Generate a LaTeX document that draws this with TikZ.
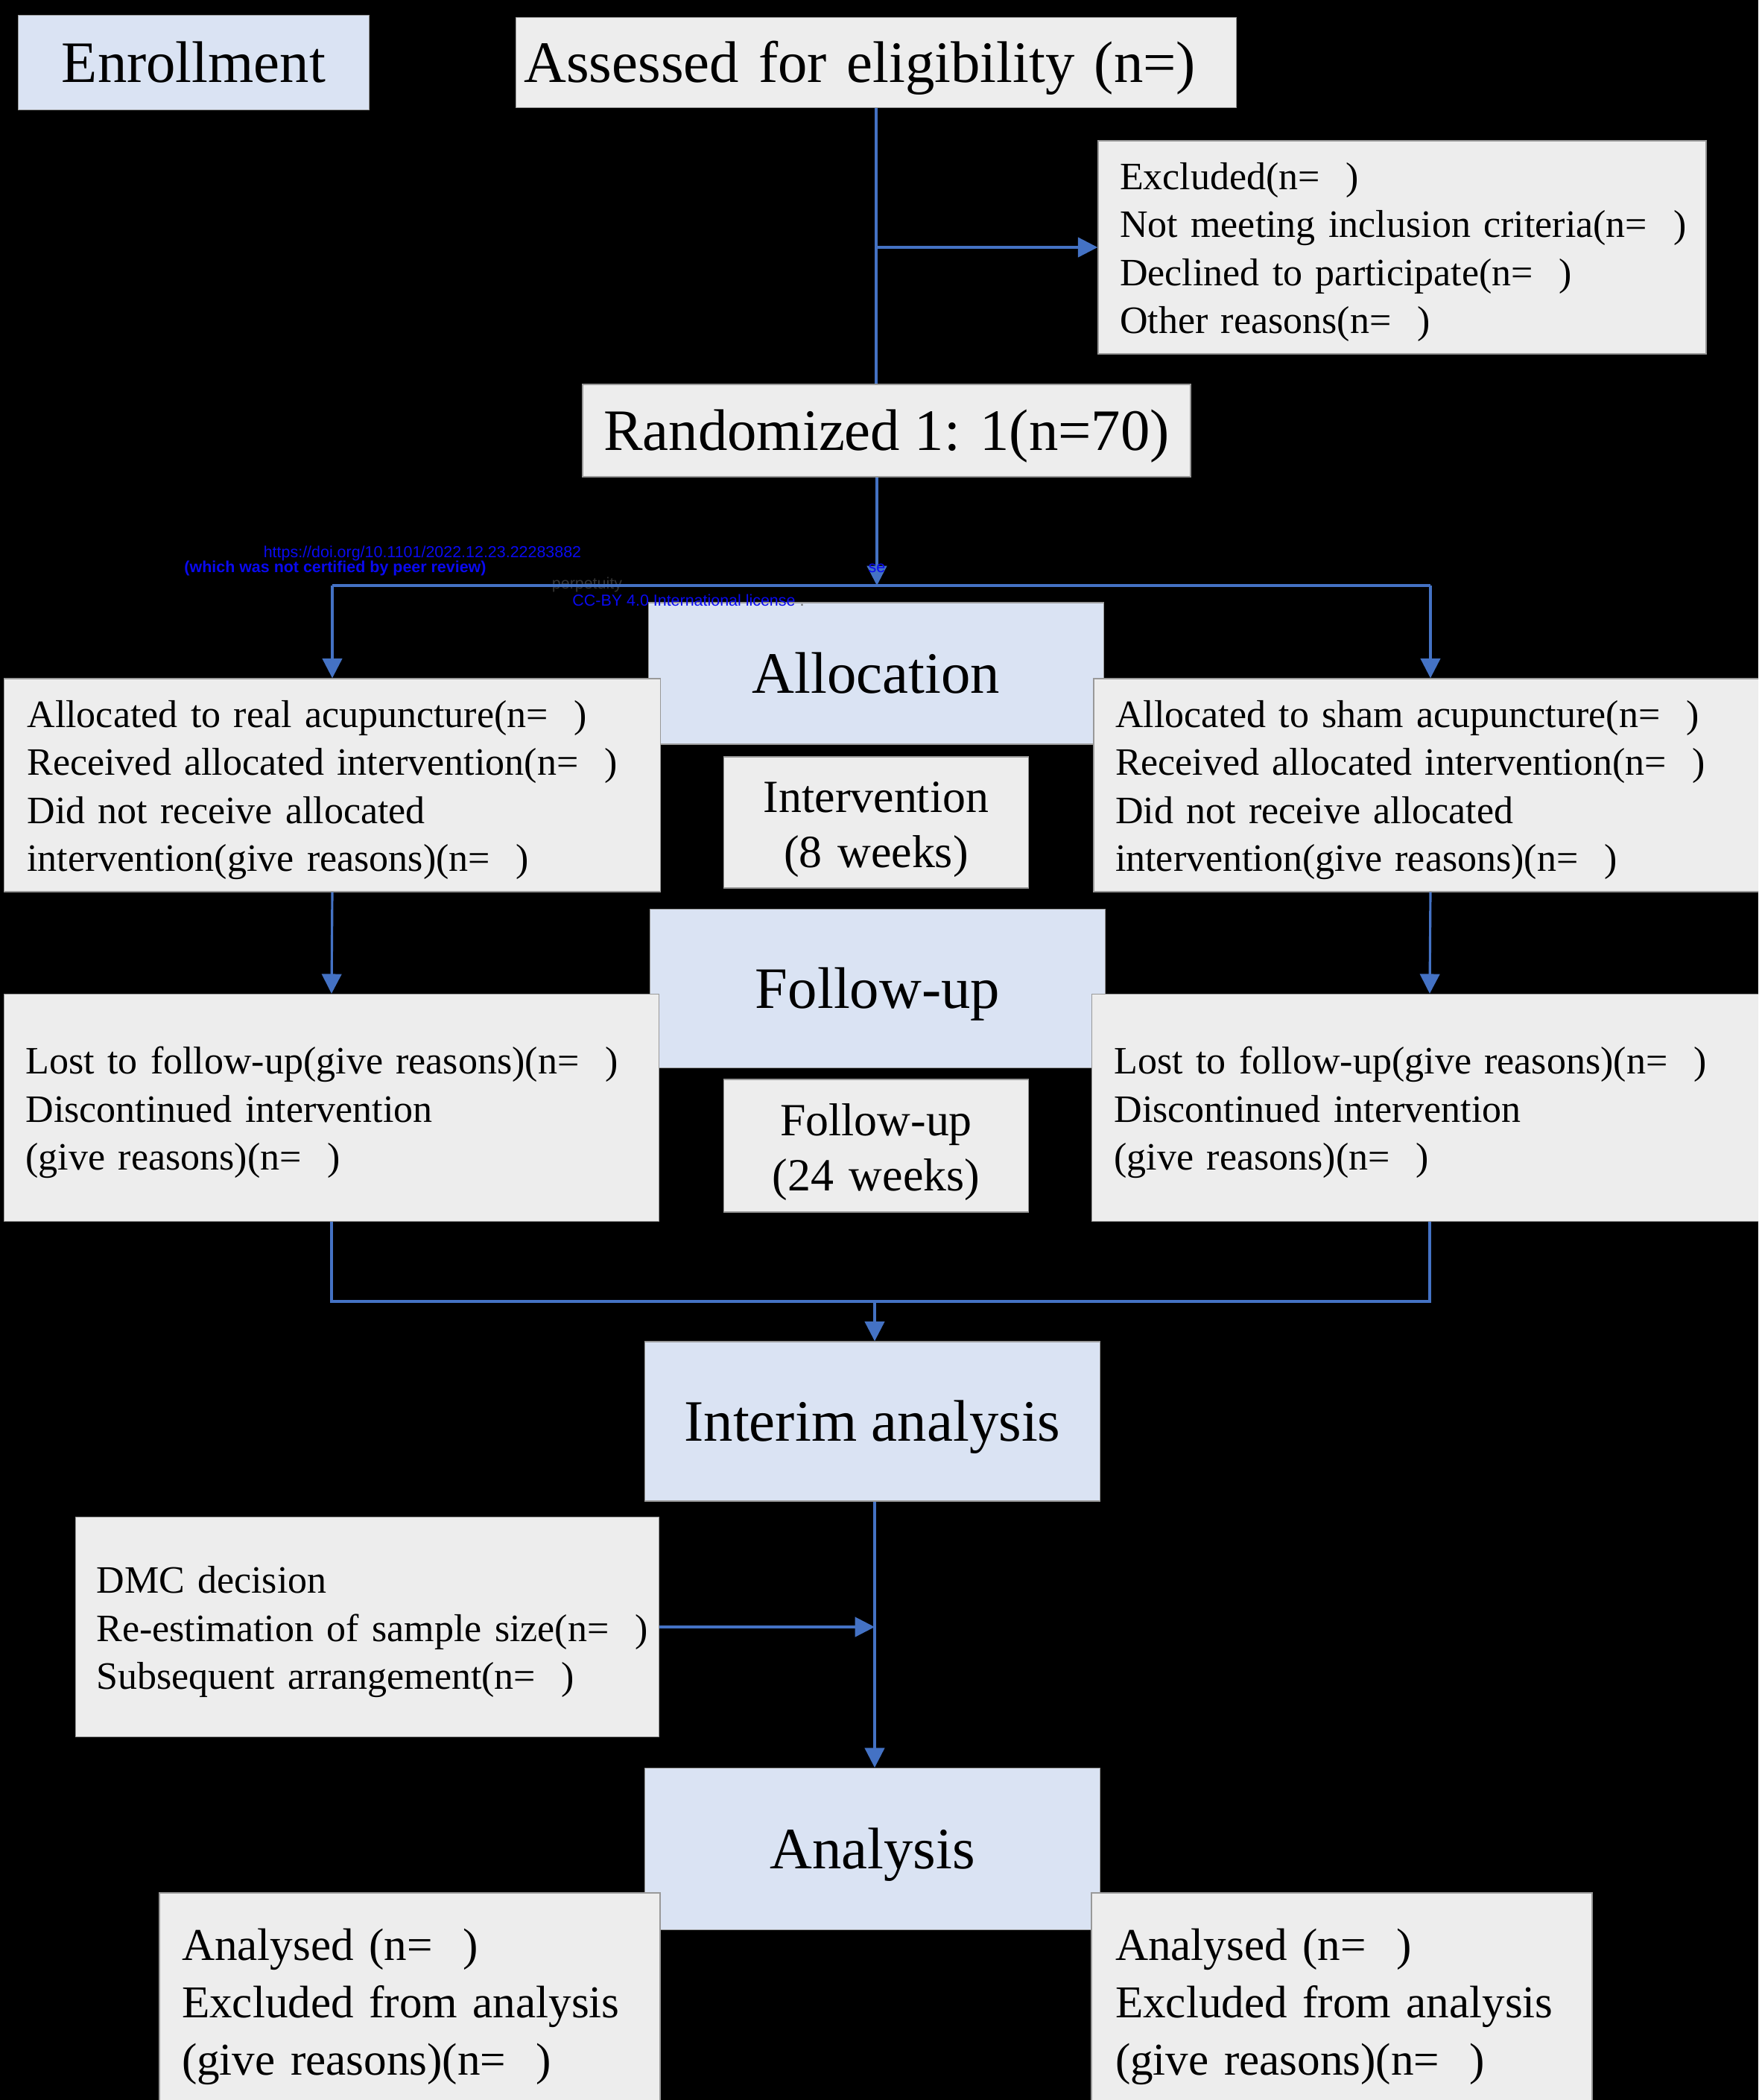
\documentclass[tikz,border=0pt]{standalone}
\usepackage{fontspec}
\setmainfont{Liberation Serif}
\newfontfamily\stampfont{Liberation Sans}
\usetikzlibrary{arrows.meta}
\definecolor{boxgray}{HTML}{EDEDED}
\definecolor{boxblue}{HTML}{DAE3F3}
\definecolor{linkblue}{HTML}{4472C4}
\definecolor{stampblue}{HTML}{0A0AF0}
\tikzset{
  stagebox/.style={fill=boxblue, draw=black!40, line width=0.4pt, inner sep=0pt, text height=14.8pt, text depth=0pt, font=\fontsize{22.4}{27}\selectfont},
  countbox/.style={fill=boxgray, draw=black!40, line width=0.4pt, inner sep=0pt, text height=14.8pt, text depth=0pt, font=\fontsize{22.4}{27}\selectfont},
  notebox/.style={fill=boxgray, draw=black!40, line width=0.4pt, inner ysep=0pt, align=left, text height=14pt, font=\fontsize{14.8}{18.35}\selectfont},
  periodbox/.style={fill=boxgray, draw=black!40, line width=0.4pt, inner sep=0pt, text width=4.09cm, align=center, text height=17pt, font=\fontsize{17.6}{21}\selectfont},
  resultbox/.style={notebox, text height=15.8pt, font=\fontsize{17.4}{21.9}\selectfont},
  flowline/.style={draw=linkblue, line width=0.9pt},
  flowarrow/.style={flowline, -{Triangle[length=7.5pt,width=7.5pt]}},
  stamp/.style={font=\stampfont\fontsize{6.1}{7}\selectfont, text=stampblue, inner sep=0pt},
}
\begin{document}
\begin{tikzpicture}

   \useasboundingbox (0,0) rectangle (23.6,-28.19);
   \clip (0,0) rectangle (23.6,-28.19);
   \fill [black] (0,0) rectangle (23.6,-28.19);

   \node (perpetuity) at (7.88,-7.85) [stamp, text=black!80] {perpetuity};

   \node (Enrollment) at (2.60,-0.84) [stagebox, minimum width=4.71cm, minimum height=1.27cm] {Enrollment};
   \node (Assessed) at (11.76,-0.84) [countbox, inner xsep=0.11cm, text width=9.45cm, align=left, minimum height=1.21cm] {Assessed for eligibility (n=)};
   \node (Excluded) at (18.82,-3.32) [notebox, inner xsep=0.29cm, text width=7.58cm, minimum height=2.86cm] {Excluded(n=~~)\\ \mbox{Not meeting inclusion criteria(n=~~)}\\ Declined to participate(n=~~)\\ Other reasons(n=~~)};
   \node (Randomized) at (11.90,-5.78) [countbox, minimum width=8.16cm, minimum height=1.24cm] {Randomized 1: 1(n=70)};

   \node (Allocation) at (11.76,-9.04) [stagebox, minimum width=6.11cm, minimum height=1.90cm] {Allocation};
   \node (FollowUp) at (11.78,-13.27) [stagebox, minimum width=6.11cm, minimum height=2.13cm] {Follow-up};
   \node (Interim) at (11.71,-19.08) [stagebox, minimum width=6.11cm, minimum height=2.14cm] {Interim analysis};
   \node (Analysis) at (11.71,-24.82) [stagebox, minimum width=6.11cm, minimum height=2.17cm] {Analysis};

   \node (AllocReal) at (4.46,-10.54) [notebox, inner xsep=0.31cm, text width=8.19cm, minimum height=2.86cm] {Allocated to real acupuncture(n=~~)\\ Received allocated intervention(n=~~)\\ Did not receive allocated\\ intervention(give reasons)(n=~~)};
   \node (AllocSham) at (19.20,-10.54) [notebox, inner xsep=0.29cm, text width=8.46cm, minimum height=2.86cm] {Allocated to sham acupuncture(n=~~)\\ Received allocated intervention(n=~~)\\ Did not receive allocated\\ intervention(give reasons)(n=~~)};
   \node (Intervention) at (11.76,-11.04) [periodbox, minimum height=1.76cm] {Intervention\\(8 weeks)};

   \node (LostReal) at (4.45,-14.87) [notebox, inner xsep=0.29cm, text width=8.21cm, minimum height=3.05cm] {Lost to follow-up(give reasons)(n=~~)\\ Discontinued intervention\\ (give reasons)(n=~~)};
   \node (LostSham) at (19.19,-14.87) [notebox, inner xsep=0.30cm, text width=8.47cm, minimum height=3.05cm] {Lost to follow-up(give reasons)(n=~~)\\ Discontinued intervention\\ (give reasons)(n=~~)};
   \node (FollowWeeks) at (11.76,-15.38) [periodbox, minimum height=1.78cm] {Follow-up\\(24 weeks)};

   \node (DMC) at (4.93,-21.84) [notebox, inner xsep=0.28cm, text width=7.27cm, minimum height=2.95cm] {DMC decision\\ \mbox{Re-estimation of sample size(n=~~)}\\ Subsequent arrangement(n=~~)};

   \node (AnalysedReal) at (5.50,-26.87) [resultbox, inner xsep=0.30cm, text width=6.12cm, minimum height=2.92cm] {Analysed (n=~~)\\ Excluded from analysis\\ (give reasons)(n=~~)};
   \node (AnalysedSham) at (18.01,-26.87) [resultbox, inner xsep=0.32cm, text width=6.08cm, minimum height=2.92cm] {Analysed (n=~~)\\ Excluded from analysis\\ (give reasons)(n=~~)};

   \coordinate (ExclSplit) at (Assessed.south |- Excluded.west);
   \coordinate (AllocSplit) at (11.77,-7.86);
   \coordinate (Merge) at (11.74,-17.47);

   \draw [flowline] (Assessed.south) -- (Assessed.south |- Randomized.north);
   \draw [flowarrow] (ExclSplit) -- (Excluded.west);
   \draw [flowarrow] (AllocSplit |- Randomized.south) -- (AllocSplit);
   \draw [flowline] (AllocReal.north |- AllocSplit) -- (AllocSham.north |- AllocSplit);
   \draw [flowarrow] (AllocReal.north |- AllocSplit) -- (AllocReal.north);
   \draw [flowarrow] (AllocSham.north |- AllocSplit) -- (AllocSham.north);
   \draw [flowarrow] (AllocReal.south) -- (LostReal.north);
   \draw [flowarrow] (AllocSham.south) -- (LostSham.north);
   \draw [flowline] (LostReal.south) -- (LostReal.south |- Merge) -- (LostSham.south |- Merge) -- (LostSham.south);
   \draw [flowarrow] (Merge) -- (Merge |- Interim.north);
   \draw [flowarrow] (Merge |- Interim.south) -- (Merge |- Analysis.north);
   \draw [flowarrow] (DMC.east) -- (DMC.east -| Merge);

   \node (Doi) at (5.67,-7.43) [stamp] {https://doi.org/10.1101/2022.12.23.22283882};
   \node (Review) at (4.50,-7.63) [stamp, font=\stampfont\bfseries\fontsize{6.1}{7}\selectfont] {(which was not certified by peer review)};
   \node (License) at (9.24,-8.06) [stamp] {CC-BY 4.0 International license \textcolor{black!60}{.}};
   \node (Se) at (11.77,-7.63) [stamp] {se};

\end{tikzpicture}
\end{document}
